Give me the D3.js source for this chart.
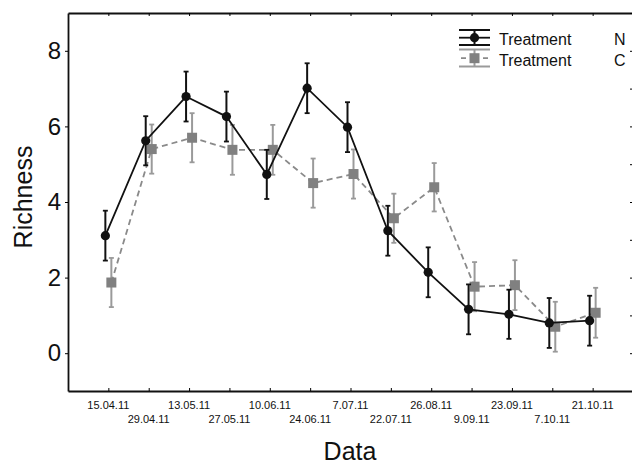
<!DOCTYPE html>
<html>
<head>
<meta charset="utf-8">
<script src="https://cdn.jsdelivr.net/npm/d3@7"></script>
<style>
  body { margin: 0; background: #fff; }
  svg { display: block; font-family: Arial, "Liberation Sans", sans-serif; }
</style>
</head>
<body>
<div class="chart"></div>
<script>
const w = 632;
const h = 464;

const dates = ['15.04.11', '29.04.11', '13.05.11', '27.05.11', '10.06.11', '24.06.11', '7.07.11',
  '22.07.11', '26.08.11', '9.09.11', '23.09.11', '7.10.11', '21.10.11'];
const treatN = [3.11, 5.62, 6.79, 6.26, 4.73, 7.01, 5.98, 3.24, 2.14, 1.16, 1.03, 0.8, 0.86];
const errN = [0.66, 0.65, 0.66, 0.66, 0.65, 0.66, 0.66, 0.66, 0.66, 0.66, 0.65, 0.66, 0.66];
const treatC = [1.87, 5.4, 5.7, 5.38, 5.38, 4.5, 4.74, 3.57, 4.39, 1.76, 1.8, 0.7, 1.07];
const errC = [0.65, 0.65, 0.65, 0.66, 0.66, 0.65, 0.65, 0.65, 0.64, 0.65, 0.66, 0.66, 0.66];
const yTicks = [0, 2, 4, 6, 8];

const mLeft = 68, mRight = 633, mTop = 13, mBottom = 391;

const svg = d3.select('.chart').append('svg').attr('width', w).attr('height', h);

const xScale = d3.scaleLinear().domain([-1, 13]).range([mLeft, mRight]);
const yScale = d3.scaleLinear().domain([-1, 9]).range([mBottom, mTop]);

// axes (box with inward ticks)
const idx = d3.range(dates.length);
svg.append('g')
  .attr('transform', `translate(0,${mBottom})`)
  .call(d3.axisBottom(xScale).tickValues(idx).tickSize(-3).tickSizeOuter(0).tickFormat(''))
  .call(g => g.select('.domain').attr('stroke', '#111').attr('stroke-width', 1.8));
svg.append('g')
  .attr('transform', `translate(0,${mTop})`)
  .call(d3.axisTop(xScale).tickValues(idx).tickSize(-3).tickSizeOuter(0).tickFormat(''))
  .call(g => g.select('.domain').attr('stroke', '#111').attr('stroke-width', 1.8));
svg.append('g')
  .attr('transform', `translate(${mLeft},0)`)
  .call(d3.axisLeft(yScale).tickValues(yTicks).tickSize(3).tickSizeOuter(0).tickPadding(4))
  .call(g => g.select('.domain').attr('stroke', '#111').attr('stroke-width', 1.8))
  .call(g => g.selectAll('text').attr('font-size', 24).attr('fill', '#111').attr('font-family', 'Arial, "Liberation Sans", sans-serif'));
svg.append('g')
  .attr('transform', `translate(${mRight},0)`)
  .call(d3.axisRight(yScale).tickValues(d3.range(0, 10)).tickSize(-3).tickSizeOuter(0).tickFormat(''))
  .call(g => g.select('.domain').attr('stroke', '#111'));

// date labels, staggered
svg.append('g').selectAll('text')
  .data(dates)
  .join('text')
  .attr('x', (d, i) => xScale(i))
  .attr('y', (d, i) => i % 2 === 0 ? 409 : 423)
  .attr('text-anchor', 'middle')
  .attr('font-size', 11)
  .attr('fill', '#111')
  .text(d => d);

// titles
svg.append('text')
  .attr('x', 350).attr('y', 460)
  .attr('text-anchor', 'middle')
  .attr('font-size', 25)
  .attr('fill', '#111')
  .text('Data');
svg.append('text')
  .attr('transform', 'translate(32,197) rotate(-90)')
  .attr('text-anchor', 'middle')
  .attr('font-size', 25)
  .attr('fill', '#111')
  .text('Richness');

function drawSeries(vals, errs, dx, lineColor, barColor, dash, marker) {
  const g = svg.append('g');
  const line = d3.line().x((d, i) => xScale(i) + dx).y(d => yScale(d));
  g.append('path')
    .attr('d', line(vals))
    .attr('fill', 'none')
    .attr('stroke', lineColor)
    .attr('stroke-width', 1.8)
    .attr('stroke-dasharray', dash);
  vals.forEach((v, i) => {
    const x = xScale(i) + dx;
    const y1 = yScale(v + errs[i]);
    const y2 = yScale(v - errs[i]);
    g.append('line').attr('x1', x).attr('x2', x).attr('y1', y1).attr('y2', y2)
      .attr('stroke', barColor).attr('stroke-width', 2);
    [y1, y2].forEach(y => {
      g.append('line').attr('x1', x - 2.5).attr('x2', x + 2.5).attr('y1', y).attr('y2', y)
        .attr('stroke', barColor).attr('stroke-width', 1.8);
    });
    if (marker === 'circle') {
      g.append('circle').attr('cx', x).attr('cy', yScale(v)).attr('r', 4.6).attr('fill', '#111');
    } else {
      g.append('rect').attr('x', x - 5).attr('y', yScale(v) - 5).attr('width', 10).attr('height', 10)
        .attr('fill', '#808080');
    }
  });
}

drawSeries(treatC, errC, 3, '#8a8a8a', '#9a9a9a', '6,4', 'square');
drawSeries(treatN, errN, -3, '#111', '#111', null, 'circle');

// legend
const legend = svg.append('g');
const lx1 = 459, lx2 = 490, lxm = 474.5;
// N
[30, 45].forEach(y => legend.append('line').attr('x1', lx1).attr('x2', lx2).attr('y1', y).attr('y2', y)
  .attr('stroke', '#111').attr('stroke-width', 2));
legend.append('line').attr('x1', lx1).attr('x2', lx2).attr('y1', 37.7).attr('y2', 37.7)
  .attr('stroke', '#111').attr('stroke-width', 1.8);
legend.append('line').attr('x1', lxm).attr('x2', lxm).attr('y1', 30).attr('y2', 45)
  .attr('stroke', '#111').attr('stroke-width', 2);
legend.append('circle').attr('cx', lxm).attr('cy', 37.7).attr('r', 4.6).attr('fill', '#111');
// C
[49.5, 66.5].forEach(y => legend.append('line').attr('x1', lx1).attr('x2', lx2).attr('y1', y).attr('y2', y)
  .attr('stroke', '#9a9a9a').attr('stroke-width', 2));
legend.append('line').attr('x1', lx1 + 2).attr('x2', lx2 - 2).attr('y1', 58.2).attr('y2', 58.2)
  .attr('stroke', '#8a8a8a').attr('stroke-width', 1.8).attr('stroke-dasharray', '5,17');
legend.append('line').attr('x1', lxm).attr('x2', lxm).attr('y1', 49.5).attr('y2', 66.5)
  .attr('stroke', '#9a9a9a').attr('stroke-width', 2);
legend.append('rect').attr('x', lxm - 5).attr('y', 53.2).attr('width', 10).attr('height', 10).attr('fill', '#808080');

const legendRows = [['Treatment', 'N', 45], ['Treatment', 'C', 65.5]];
legendRows.forEach(r => {
  legend.append('text').attr('x', 499).attr('y', r[2]).attr('font-size', 16).attr('fill', '#111').text(r[0]);
  legend.append('text').attr('x', 614).attr('y', r[2]).attr('font-size', 16).attr('fill', '#111').text(r[1]);
});
</script>
</body>
</html>
